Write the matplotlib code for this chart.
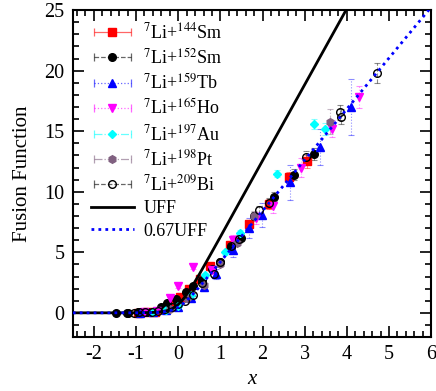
import matplotlib
matplotlib.use("Agg")
import matplotlib.pyplot as plt
import numpy as np
from matplotlib.ticker import MultipleLocator
from matplotlib.legend_handler import HandlerErrorbar

plt.rcParams['font.family'] = ['Liberation Serif', 'DejaVu Serif']
plt.rcParams['mathtext.fontset'] = 'stix'
plt.rcParams['axes.unicode_minus'] = False

# ---- data ----
sm144_x = [-0.95, -0.75, -0.55, -0.35, -0.15, 0.05, 0.25, 0.52, 0.76, 1.22, 1.69, 2.15, 2.62, 3.06]
sm144_y = [0.02, 0.05, 0.1, 0.3, 0.7, 1.3, 2.0, 2.8, 3.9, 5.6, 7.3, 9.0, 11.2, 12.5]
sm144_e = [0.02, 0.02, 0.03, 0.05, 0.08, 0.1, 0.15, 0.2, 0.25, 0.3, 0.35, 0.4, 0.45, 0.5]

sm152_x = [-1.47, -1.2, -0.95, -0.75, -0.55, -0.4, -0.27, -0.05, 0.19, 0.34, 0.56, 0.8, 1.0, 1.25, 1.5, 1.79, 2.26, 2.74, 3.23]
sm152_y = [0.02, 0.02, 0.03, 0.06, 0.15, 0.45, 0.8, 1.13, 1.76, 2.2, 2.7, 3.6, 4.2, 5.4, 6.2, 8.0, 9.6, 11.4, 13.1]
sm152_e = [0.02, 0.02, 0.02, 0.03, 0.05, 0.06, 0.08, 0.1, 0.12, 0.15, 0.18, 0.2, 0.25, 0.3, 0.3, 0.35, 0.4, 0.45, 0.5]

tb159_x = [-0.9, -0.6, -0.3, 0.0, 0.3, 0.6, 0.9, 1.3, 1.67, 1.99, 2.66, 3.37, 4.09]
tb159_y = [0.01, 0.05, 0.2, 0.5, 1.2, 2.1, 3.2, 5.2, 7.0, 8.1, 10.8, 13.7, 17.0]
tb159_e = [0.05, 0.05, 0.1, 0.1, 0.2, 0.3, 0.4, 0.6, 0.8, 1.0, 1.45, 1.5, 2.35]

ho165_x = [-0.8, -0.5, -0.2, 0.0, 0.36, 0.8, 1.31, 1.85, 2.25, 2.92, 3.65, 4.28]
ho165_y = [0.05, 0.15, 1.2, 2.2, 3.8, 3.5, 6.0, 7.8, 8.85, 12.0, 15.2, 17.85]
ho165_e = [0.05, 0.05, 0.1, 0.15, 0.2, 0.3, 0.4, 0.5, 0.6, 0.8, 0.7, 0.9]

au197_x = [-0.6, -0.3, 0.0, 0.3, 0.64, 1.1, 1.46, 2.34, 3.21, 3.47]
au197_y = [0.05, 0.25, 0.6, 1.5, 3.1, 5.0, 6.6, 11.5, 15.6, 15.2]
au197_e = [0.02, 0.05, 0.08, 0.1, 0.15, 0.2, 0.25, 0.3, 0.4, 0.5]

pt198_x = [-0.2, 0.2, 0.6, 1.0, 1.4, 1.79, 3.59]
pt198_y = [0.3, 1.2, 2.3, 4.0, 5.8, 8.0, 15.8]
pt198_e = [0.05, 0.1, 0.15, 0.2, 0.3, 0.4, 1.0]

bi209_x = [-1.22, -1.06, -0.94, -0.78, -0.62, -0.47, -0.31, -0.15, 0.0, 0.15, 0.36, 0.56, 0.84, 1.0, 1.24, 1.43, 1.91, 2.15, 3.02, 3.83, 3.85, 4.72]
bi209_y = [0.01, 0.02, 0.03, 0.05, 0.08, 0.12, 0.3, 0.5, 0.7, 1.0, 1.5, 2.45, 3.2, 4.2, 5.5, 6.1, 8.5, 9.1, 12.9, 16.55, 16.2, 19.8]
bi209_e = [0.01, 0.01, 0.02, 0.02, 0.03, 0.03, 0.05, 0.05, 0.08, 0.1, 0.12, 0.15, 0.2, 0.2, 0.25, 0.3, 0.35, 0.4, 0.5, 0.6, 0.6, 0.8]

# UFF curve
uff_x = [-2.5, -1.5, -1.0, -0.5, -0.25, -0.125, 0.0, 0.125, 0.25, 0.375, 0.5, 0.625, 0.75, 1.0, 1.5, 2.0, 3.0, 4.0]
uff_y = [0.0, 0.0, 0.002, 0.043, 0.19, 0.376, 0.69, 1.16, 1.76, 2.45, 3.18, 3.95, 4.72, 6.28, 9.43, 12.57, 18.85, 25.13]
# 0.67 UFF curve
uff67_x = [-2.5, -1.5, -1.0, -0.5, -0.25, -0.125, 0.0, 0.125, 0.25, 0.375, 0.5, 0.625, 0.75, 1.0, 1.5, 2.0, 3.0, 4.0, 5.0, 6.0]
uff67_y = [0.0, 0.0, 0.001, 0.029, 0.127, 0.252, 0.464, 0.777, 1.18, 1.64, 2.13, 2.65, 3.16, 4.21, 6.32, 8.42, 12.63, 16.84, 21.05, 25.26]

series = [
    (sm144_x, sm144_y, sm144_e, '#ff0000', 's', '-', r'$^{7}$Li+$^{144}$Sm', True),
    (sm152_x, sm152_y, sm152_e, '#000000', 'o', '--', r'$^{7}$Li+$^{152}$Sm', True),
    (tb159_x, tb159_y, tb159_e, '#0000ff', '^', ':', r'$^{7}$Li+$^{159}$Tb', True),
    (ho165_x, ho165_y, ho165_e, '#ff00ff', 'v', ':', r'$^{7}$Li+$^{165}$Ho', True),
    (au197_x, au197_y, au197_e, '#00ffff', 'D', '-.', r'$^{7}$Li+$^{197}$Au', True),
    (pt198_x, pt198_y, pt198_e, '#806080', 'h', '-.', r'$^{7}$Li+$^{198}$Pt', True),
    (bi209_x, bi209_y, bi209_e, '#000000', 'o', '--', r'$^{7}$Li+$^{209}$Bi', False),
]

fig = plt.figure(figsize=(4.36, 3.91), dpi=100)
ax = fig.add_axes([0.167, 0.138, 0.822, 0.836])

handles = []
labels = []
for x, y, e, c, m, ls, lab, filled in series:
    fc = c if filled else 'none'
    ms = 4.5 if m == 'D' else 5.5
    cont = ax.errorbar(x, y, yerr=e, fmt=m, color=c, mfc=fc, mec=c, ms=ms,
                       ecolor=c, elinewidth=0.8, capsize=2.5, capthick=0.8, zorder=3)
    for bl in cont[2]:
        bl.set_linestyle(ls)
        bl.set_alpha(0.45)
    for cl in cont[1]:
        cl.set_alpha(0.45)
    # legend proxy with horizontal bar and caps
    prox = ax.errorbar([np.nan], [np.nan], xerr=[1], fmt=m, color=c, mfc=fc, mec=c, ms=ms,
                       ecolor=c, elinewidth=0.9, capsize=3, capthick=0.9)
    for bl in prox[2]:
        bl.set_linestyle(ls)
        bl.set_alpha(0.6)
    for cl in prox[1]:
        cl.set_alpha(0.6)
    handles.append(prox)
    labels.append(lab)

l1, = ax.plot(uff_x, uff_y, color='black', lw=2, zorder=4)
l2, = ax.plot(uff67_x, uff67_y, color='#0000ff', lw=2, ls=(0, (1, 1.5)), zorder=4)
handles += [l1, l2]
labels += ['UFF', '0.67UFF']

ax.set_xlim(-2.5, 6)
ax.set_ylim(-2, 25)
ax.xaxis.set_major_locator(MultipleLocator(1))
ax.xaxis.set_minor_locator(MultipleLocator(0.2))
ax.yaxis.set_major_locator(MultipleLocator(5))
ax.yaxis.set_minor_locator(MultipleLocator(1))
ax.tick_params(which='both', direction='in', top=True, right=True, labelsize=14.5, width=1.2)
ax.tick_params(which='major', length=8, pad=6)
ax.tick_params(which='minor', length=4)
for s in ax.spines.values():
    s.set_linewidth(1.5)

ax.set_xlabel('x', fontsize=15, style='italic', labelpad=4)
ax.set_ylabel('Fusion Function', fontsize=15, labelpad=9)

ax.legend(handles, labels, loc='upper left', bbox_to_anchor=(0.03, 0.985), frameon=False,
          fontsize=13, handlelength=2.4, handletextpad=0.5, labelspacing=0.3,
          borderaxespad=0, handler_map={type(handles[0]): HandlerErrorbar(xerr_size=1.0)})

fig.savefig('out.png', dpi=100)
